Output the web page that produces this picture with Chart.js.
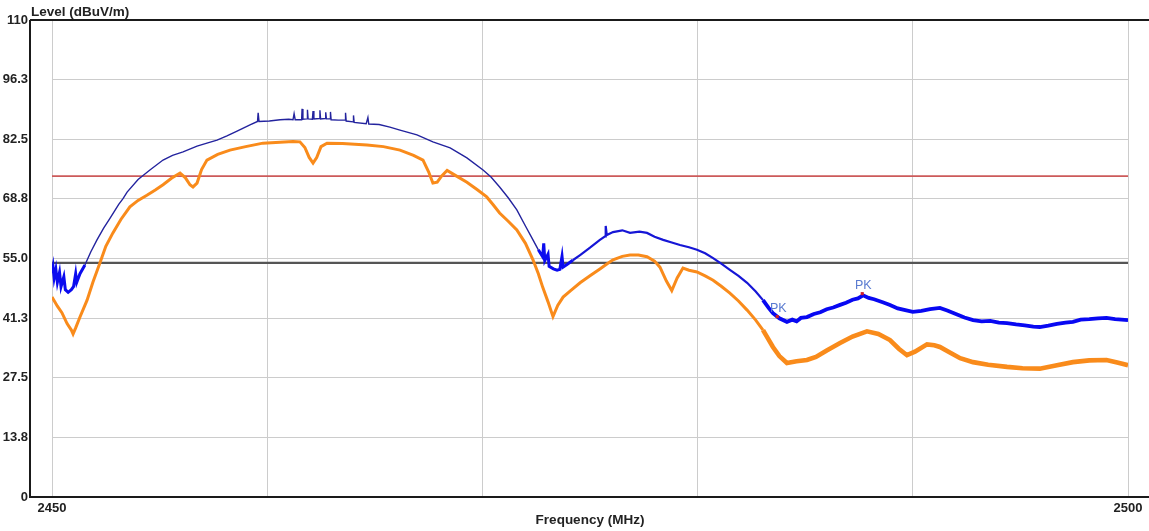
<!DOCTYPE html>
<html>
<head>
<meta charset="utf-8">
<script src="https://cdn.jsdelivr.net/npm/chart.js@4/dist/chart.umd.min.js"></script>
<style>
html,body{margin:0;padding:0;background:#fff;}
canvas{display:block;}
</style>
</head>
<body>
<canvas id="c" width="1149" height="531"></canvas>
<script>
// ---- data ----
const blueFreq = [2450.00,2450.05,2450.10,2450.18,2450.25,2450.35,2450.42,2450.55,2450.62,2450.75,2450.90,2451.00,2451.10,2451.15,2451.30,2451.53,2451.80,2452.09,2452.40,2452.70,2453.10,2453.30,2453.49,2454.00,2454.55,2455.16,2455.60,2456.09,2456.74,2457.20,2457.67,2458.13,2458.60,2459.20,2459.55,2459.58,2459.62,2460.10,2460.60,2461.00,2461.20,2461.25,2461.30,2461.60,2461.62,2461.66,2461.85,2461.87,2461.90,2462.10,2462.13,2462.17,2462.43,2462.45,2462.48,2462.70,2462.72,2462.75,2462.92,2462.94,2462.97,2463.30,2463.62,2463.64,2463.67,2463.99,2464.01,2464.04,2464.60,2464.68,2464.72,2465.20,2465.70,2466.17,2466.96,2467.70,2468.50,2469.28,2470.03,2470.40,2470.80,2471.20,2471.60,2472.00,2472.35,2472.60,2472.80,2472.85,2472.90,2473.05,2473.10,2473.30,2473.47,2473.60,2473.70,2473.75,2473.93,2474.20,2474.54,2475.00,2475.46,2475.70,2475.73,2475.78,2476.07,2476.50,2476.86,2477.30,2477.65,2478.00,2478.40,2478.80,2479.18,2479.60,2479.97,2480.35,2480.72,2481.10,2481.50,2481.90,2482.30,2482.70,2483.04,2483.30,2483.50,2483.80,2484.15,2484.40,2484.60,2484.80,2485.08,2485.40,2485.70,2486.00,2486.30,2486.62,2486.90,2487.20,2487.45,2487.69,2487.95,2488.20,2488.60,2488.94,2489.30,2489.65,2490.00,2490.40,2490.80,2491.26,2491.60,2492.00,2492.40,2492.80,2493.20,2493.60,2494.00,2494.38,2494.80,2495.20,2495.60,2495.90,2496.30,2496.70,2497.10,2497.44,2497.80,2498.20,2498.60,2499.00,2499.40,2499.70,2500.00];
const blueLevel = [51.5,53.0,50.5,52.5,49.5,51.8,48.5,50.8,47.8,47.2,47.8,48.5,51.5,49.5,51.5,53.5,56.5,59.3,62.0,64.3,67.5,68.8,70.3,73.2,75.4,77.7,78.8,79.6,80.9,81.6,82.3,83.3,84.4,85.8,86.6,88.6,86.6,86.7,87.0,87.1,87.0,88.4,87.0,87.0,89.5,87.1,87.2,89.3,87.2,87.1,89.0,87.2,87.3,89.2,87.2,87.3,88.7,87.2,87.2,88.8,87.0,86.9,86.9,88.6,86.7,86.5,88.0,86.4,86.1,87.5,86.0,85.9,85.3,84.6,83.5,81.9,80.5,78.2,75.4,73.8,71.5,69.0,66.2,62.5,59.3,57.0,55.4,58.5,54.5,56.0,53.2,52.6,52.3,52.5,55.5,53.0,53.6,54.6,55.8,57.5,59.3,60.1,62.5,60.4,61.1,61.5,60.9,61.2,60.9,60.0,59.3,58.7,58.1,57.6,57.0,56.2,55.1,53.8,52.4,51.0,49.4,47.4,45.4,43.6,42.4,41.2,40.4,40.9,40.5,41.3,41.5,42.2,42.6,43.3,43.7,44.3,44.8,45.5,45.8,46.5,45.9,45.6,44.9,44.3,43.5,43.1,42.7,42.9,43.3,43.6,43.0,42.2,41.4,40.8,40.5,40.6,40.2,40.1,39.8,39.6,39.3,39.2,39.5,39.9,40.2,40.4,40.9,41.0,41.2,41.3,41.0,40.9,40.8];

const orangeFreq = [2450.00,2450.25,2450.46,2450.70,2450.90,2450.98,2451.10,2451.30,2451.63,2451.90,2452.23,2452.50,2452.83,2453.20,2453.62,2454.00,2454.41,2454.80,2455.16,2455.55,2455.95,2456.20,2456.41,2456.55,2456.74,2456.95,2457.20,2457.70,2458.27,2459.00,2459.80,2460.60,2461.20,2461.52,2461.75,2461.95,2462.13,2462.30,2462.50,2462.78,2463.50,2464.64,2465.40,2466.17,2466.80,2467.24,2467.50,2467.70,2467.90,2468.10,2468.36,2468.80,2469.28,2469.75,2470.20,2470.50,2470.80,2471.20,2471.60,2472.00,2472.35,2472.60,2472.80,2473.05,2473.28,2473.50,2473.75,2474.10,2474.54,2475.00,2475.46,2475.80,2476.07,2476.50,2476.86,2477.25,2477.65,2478.00,2478.25,2478.55,2478.80,2479.05,2479.32,2479.60,2479.97,2480.35,2480.72,2481.10,2481.50,2481.90,2482.30,2482.70,2483.04,2483.30,2483.50,2483.80,2484.15,2484.60,2485.08,2485.50,2486.00,2486.62,2487.20,2487.87,2488.40,2488.94,2489.35,2489.73,2490.10,2490.66,2491.00,2491.26,2491.70,2492.20,2492.80,2493.50,2494.38,2495.10,2495.90,2496.70,2497.44,2498.20,2499.00,2499.50,2500.00];
const orangeLevel = [46.1,44.0,42.5,40.0,38.5,37.6,39.0,41.5,45.4,49.5,54.0,57.8,60.9,64.0,66.9,68.4,69.6,70.8,72.0,73.5,74.7,73.6,72.0,71.5,72.4,75.5,77.7,79.0,80.0,80.8,81.6,81.8,82.0,81.9,80.6,78.3,77.0,78.3,80.8,81.6,81.5,81.2,80.8,80.0,78.8,77.7,75.0,72.4,72.6,74.0,75.3,74.0,72.6,70.9,69.2,67.4,65.5,63.6,61.6,58.5,54.7,51.5,48.4,45.0,41.6,44.2,46.1,47.6,49.4,51.0,52.6,53.8,54.7,55.5,55.8,55.8,55.4,54.4,53.0,49.8,47.6,50.5,52.8,52.3,51.9,51.0,50.0,48.6,47.0,45.2,43.1,40.8,38.5,36.3,34.6,32.5,30.9,31.3,31.6,32.3,33.8,35.5,37.0,38.2,37.6,36.2,34.2,32.7,33.5,35.2,35.0,34.6,33.4,32.0,31.1,30.5,30.0,29.7,29.6,30.4,31.1,31.5,31.6,31.0,30.4];

const limitFreq = [2450, 2500];
const redLimit = [74, 74];
const blackLimit = [54, 54];

const pkFreq = [2483.70, 2487.65];
const pkLevel = [41.6, 46.9];
const pkLabels = ['PK', 'PK'];

const yTicks = [0, 13.75, 27.5, 41.25, 55, 68.75, 82.5, 96.25, 110];
const yTickLabels = ['0', '13.8', '27.5', '41.3', '55.0', '68.8', '82.5', '96.3', '110'];
const xTicks = [2450, 2460, 2470, 2480, 2490, 2500];
const xTickLabels = ['2450', '', '', '', '', '2500'];

const yTitle = 'Level (dBuV/m)';
const xTitle = 'Frequency (MHz)';

// ---- build ----
const pts = (xs, ys) => xs.map((x, i) => ({x: x, y: ys[i]}));

function blueSeg(ctx) {
  const x = ctx.p0.parsed.x;
  if (x < 2451.5) return {w: 3, c: '#0b0bef'};
  if (x < 2472.6) return {w: 1.4, c: '#23239e'};
  if (x < 2474.2) return {w: 3, c: '#0b0bef'};
  if (x < 2483.0) return {w: 2.2, c: '#1616d6'};
  return {w: 3.8, c: '#0808f2'};
}
function orangeSeg(ctx) {
  const x = ctx.p0.parsed.x;
  if (x < 2483.0) return 3;
  return 4.6;
}

const framePlugin = {
  id: 'frame',
  beforeDatasetsDraw(chart) {
    const c = chart.ctx;
    const a = chart.chartArea;
    c.save();
    c.strokeStyle = '#1a1a1a';
    c.lineWidth = 2;
    c.beginPath();
    c.moveTo(30, a.top); c.lineTo(1149, a.top);
    c.moveTo(30, a.top); c.lineTo(30, a.bottom + 1);
    c.moveTo(30, a.bottom); c.lineTo(1149, a.bottom);
    c.stroke();
    c.fillStyle = '#222';
    c.font = 'bold 13.5px "Liberation Sans", Arial, sans-serif';
    c.textAlign = 'left';
    c.textBaseline = 'middle';
    c.fillText(yTitle, 31, 12);
    c.restore();
  },
  afterDatasetsDraw(chart) {
    const c = chart.ctx;
    const xs = chart.scales.x, ys = chart.scales.y;
    c.save();
    c.fillStyle = '#5a7bd0';
    c.font = '12.5px "Liberation Sans", Arial, sans-serif';
    c.textAlign = 'center';
    c.textBaseline = 'bottom';
    pkFreq.forEach((f, i) => {
      const px = xs.getPixelForValue(f), py = ys.getPixelForValue(pkLevel[i]);
      c.fillText(pkLabels[i], px + 1, py - 2);
    });
    c.restore();
  }
};

new Chart(document.getElementById('c'), {
  type: 'line',
  data: {
    datasets: [
      {
        label: 'PK', data: pts(pkFreq, pkLevel), showLine: false,
        pointRadius: 2.2, pointStyle: 'rect', pointBackgroundColor: '#d0202a', pointBorderWidth: 0
      },
      {
        label: 'Peak', data: pts(blueFreq, blueLevel), pointRadius: 0, tension: 0,
        borderColor: '#1616d6', borderWidth: 2,
        segment: { borderWidth: ctx => blueSeg(ctx).w, borderColor: ctx => blueSeg(ctx).c }
      },
      {
        label: 'Avg', data: pts(orangeFreq, orangeLevel), pointRadius: 0, tension: 0,
        borderColor: '#f98b1b', borderWidth: 3,
        segment: { borderWidth: ctx => orangeSeg(ctx) }
      },
      {
        label: 'Limit1', data: pts(limitFreq, redLimit), pointRadius: 0,
        borderColor: '#cc5a5a', borderWidth: 1.8
      },
      {
        label: 'Limit2', data: pts(limitFreq, blackLimit), pointRadius: 0,
        borderColor: '#555555', borderWidth: 2.4
      }
    ]
  },
  options: {
    responsive: false,
    animation: false,
    layout: { padding: { top: 20, right: 21, left: 0, bottom: 0 } },
    plugins: { legend: { display: false }, tooltip: { enabled: false } },
    scales: {
      x: {
        type: 'linear', min: 2450, max: 2500,
        afterBuildTicks: s => { s.ticks = xTicks.map(v => ({value: v})); },
        afterFit: s => { s.height = 34; s.paddingLeft = 0; s.paddingRight = 0; },
        grid: { color: '#cccccc', lineWidth: 1, drawTicks: false },
        border: { display: false },
        ticks: {
          padding: 4, maxRotation: 0, autoSkip: false, color: '#222',
          font: { family: '"Liberation Sans", Arial, sans-serif', size: 13, weight: 'bold' },
          callback: (v, i) => xTickLabels[i]
        },
        title: {
          display: true, text: xTitle, color: '#222', padding: { top: 0, bottom: 3 },
          font: { family: '"Liberation Sans", Arial, sans-serif', size: 13.5, weight: 'bold' }
        }
      },
      y: {
        type: 'linear', min: 0, max: 110,
        afterBuildTicks: s => { s.ticks = yTicks.map(v => ({value: v})); },
        afterFit: s => { s.width = 52; s.paddingTop = 0; s.paddingBottom = 0; },
        grid: { color: '#cccccc', lineWidth: 1, drawTicks: false },
        border: { display: false },
        ticks: {
          padding: 24, color: '#222', autoSkip: false,
          font: { family: '"Liberation Sans", Arial, sans-serif', size: 13, weight: 'bold' },
          callback: (v, i) => yTickLabels[i]
        }
      }
    }
  },
  plugins: [framePlugin]
});
</script>
</body>
</html>
